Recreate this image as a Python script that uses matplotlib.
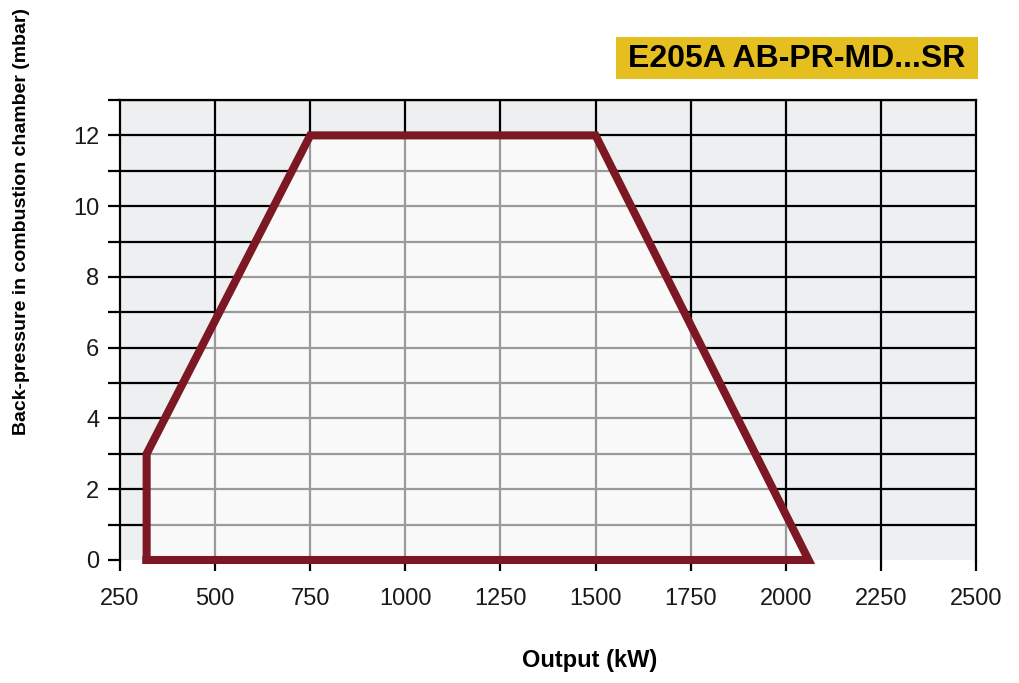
import numpy as np
import matplotlib
matplotlib.use('Agg')
import matplotlib.pyplot as plt
from matplotlib.patches import Polygon, Rectangle

plt.rcParams['font.family'] = ['Liberation Sans', 'DejaVu Sans']

# Working field outline (output kW, back-pressure mbar)
output_kw = [320, 320, 750, 1500, 2060]
pressure_mbar = [0, 3, 12, 12, 0]

x_ticks = [250, 500, 750, 1000, 1250, 1500, 1750, 2000, 2250, 2500]
y_ticks = [0, 2, 4, 6, 8, 10, 12]
y_minor = [1, 3, 5, 7, 9, 11, 13]

title = 'E205A AB-PR-MD...SR'
xlabel = 'Output (kW)'
ylabel = 'Back-pressure in combustion chamber (mbar)'

fig = plt.figure(figsize=(10.19, 6.83), dpi=100)
ax = fig.add_axes([120 / 1019, 1 - 560 / 683, 856 / 1019, 460 / 683])
ax.set_facecolor('#eeeff1')
ax.set_xlim(250, 2500)
ax.set_ylim(0, 13)

# black grid in the background
for x in x_ticks[1:-1]:
    ax.axvline(x, color='black', lw=1.6, zorder=1)
for y in y_ticks[1:] + y_minor:
    ax.axhline(y, color='black', lw=1.6, zorder=1)

# light fill for the working field
pts = np.column_stack([output_kw, pressure_mbar])
field = Polygon(pts, closed=True, facecolor='#f9f9f9', edgecolor='none', zorder=2)
ax.add_patch(field)

# gray grid inside the field
for x in x_ticks[1:-1]:
    ln = ax.axvline(x, color='#9a9a9a', lw=1.6, zorder=3)
    ln.set_clip_path(field)
for y in y_ticks[1:] + y_minor:
    ln = ax.axhline(y, color='#9a9a9a', lw=1.6, zorder=3)
    ln.set_clip_path(field)

ax.plot(output_kw + [output_kw[0]], pressure_mbar + [pressure_mbar[0]],
        color='#7b1824', lw=5.8, solid_joinstyle='miter', zorder=5, clip_on=False)

ax.set_xticks(x_ticks)
ax.set_yticks(y_ticks)
ax.set_yticks(y_minor, minor=True)
ax.tick_params(axis='both', which='both', direction='out', color='black', width=1.6,
               labelsize=17, labelcolor='#1a1a1a')
ax.tick_params(axis='y', which='both', length=9, pad=6)
ax.tick_params(axis='x', length=8, pad=12)

for s in ['left', 'right', 'top']:
    ax.spines[s].set_color('black')
    ax.spines[s].set_linewidth(1.6)
ax.spines['bottom'].set_visible(False)

fig.text(590 / 1019, 1 - 660 / 683, xlabel, fontsize=17, fontweight='bold',
         ha='center', va='center')
fig.text(22 / 1019, 1 - 222 / 683, ylabel, fontsize=14, fontweight='bold',
         ha='center', va='center', rotation=90)

# yellow title box
fig.patches.append(Rectangle((616 / 1019, 1 - 79 / 683), 362 / 1019, 42 / 683,
                             transform=fig.transFigure, facecolor='#e5be1f',
                             edgecolor='none'))
fig.text(797 / 1019, 1 - 59 / 683, title, fontsize=23, fontweight='bold',
         ha='center', va='center', color='black')

fig.savefig('out.png', dpi=100)
